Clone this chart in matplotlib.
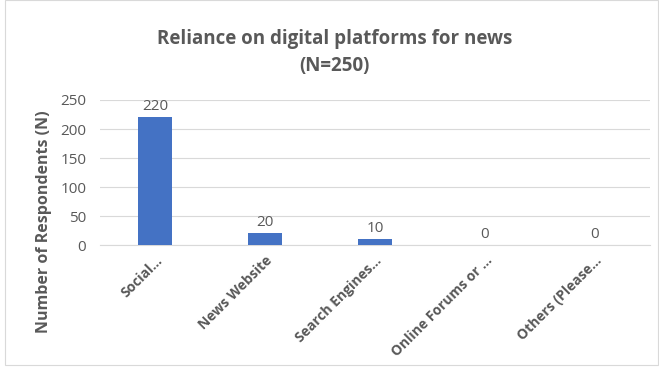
import matplotlib.pyplot as plt
import numpy as np

categories = ["Social...", "News Website", "Search Engines...", "Online Forums or ...", "Others (Please..."]
respondents = [220, 20, 10, 0, 0]
y_ticks = [0, 50, 100, 150, 200, 250]

plt.rcParams["font.family"] = ["Open Sans", "DejaVu Sans"]
text_color = "#595959"
bar_color = "#4472C4"

fig = plt.figure(figsize=(6.59, 3.69), dpi=100)
ax = fig.add_axes([0.152, 0.336, 0.834, 0.393])

x = np.arange(len(categories))
bars = ax.bar(x, respondents, width=0.31, color=bar_color, zorder=3)

# value labels above each bar
for xi, v in zip(x, respondents):
    ax.text(xi, v + 6, str(v), ha="center", va="bottom", fontsize=11, color=text_color)

ax.set_xlim(-0.5, len(categories) - 0.5)
ax.set_ylim(0, 250)
ax.set_yticks(y_ticks)
ax.set_xticks(x)
ax.set_xticklabels(categories, rotation=45, ha="right", rotation_mode="anchor",
                   fontsize=10, fontweight="bold", color=text_color)
ax.tick_params(axis="y", labelsize=11, colors=text_color, length=0, pad=10)
ax.tick_params(axis="x", length=0, pad=6)

ax.grid(axis="y", color="#d9d9d9", linewidth=0.8, zorder=0)
for side in ["top", "right", "left"]:
    ax.spines[side].set_visible(False)
ax.spines["bottom"].set_color("#d9d9d9")

ax.set_ylabel("Number of Respondents (N)", fontsize=11.5, fontweight="bold",
              color=text_color)
ax.yaxis.set_label_coords(-0.088, 0.16)

fig.text(0.508, 0.858, "Reliance on digital platforms for news\n(N=250)", ha="center",
         va="center", fontsize=13.5, fontweight="bold", color=text_color, linespacing=1.5)

# thin frame around the chart area
fig.patches.append(plt.Rectangle((0.008, 0.01), 0.99, 0.99, transform=fig.transFigure,
                                 fill=False, edgecolor="#d9d9d9", linewidth=0.8))

fig.savefig("out.png", dpi=100)
